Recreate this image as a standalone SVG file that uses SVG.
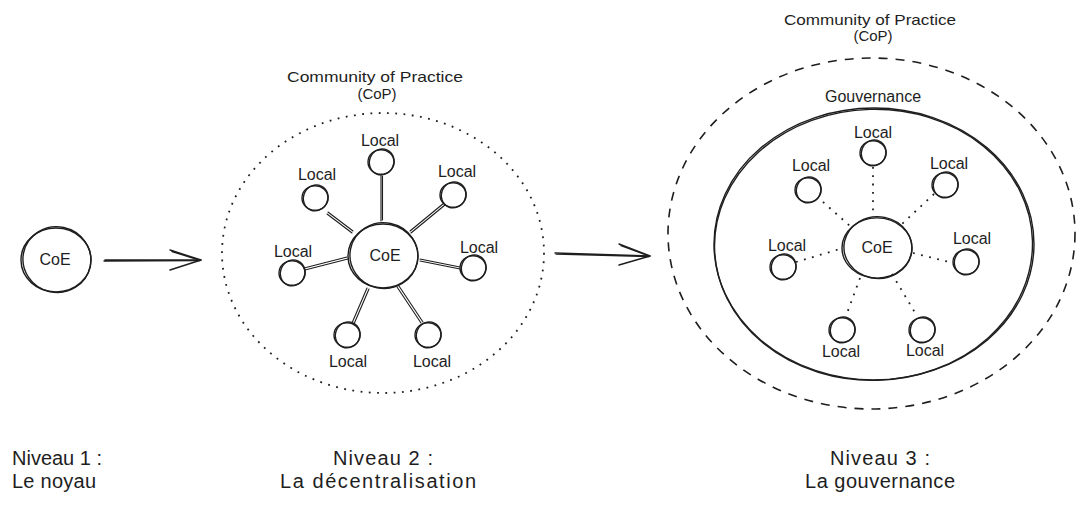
<svg xmlns="http://www.w3.org/2000/svg" xmlns:xlink="http://www.w3.org/1999/xlink" width="1085" height="505" viewBox="0 0 1085 505">
<style>
.sk{fill:none;stroke:#1e1e1e;stroke-width:1.4;stroke-linecap:round;stroke-linejoin:round}
.ln{fill:none;stroke:#1e1e1e;stroke-width:1.1;stroke-linecap:round}
.dot{fill:none;stroke:#1e1e1e;stroke-width:1.8;stroke-dasharray:1.8 6.5;stroke-linecap:butt}
.dash{fill:none;stroke:#1e1e1e;stroke-width:1.6;stroke-dasharray:9 8}
.t{font-family:"Liberation Sans",Arial,sans-serif;fill:#1e1e1e;text-anchor:middle}
.loc{font-size:16px}
.coe{font-size:16px}
.ttl{font-size:15px}
.lvl{font-size:20px}
</style>
<defs>
<g id="locShape" class="sk">
<ellipse cx="0" cy="0" rx="13" ry="12.3"/>
<ellipse cx="0.6" cy="-0.4" rx="12.2" ry="13.1" transform="rotate(25)"/>
</g>
<g id="coeShape" class="sk">
<ellipse cx="0" cy="0" rx="35" ry="32"/>
<ellipse cx="0.8" cy="-0.6" rx="34" ry="32.8" transform="rotate(12)"/>
</g>
</defs>

<!-- Level 1 -->
<g id="coe1">
<use xlink:href="#coeShape" href="#coeShape" transform="translate(56,260)"/>
<text class="t coe" x="55" y="265">CoE</text>
</g>

<!-- Level 2 -->
<g id="cop2">
<ellipse class="dot" cx="383" cy="253" rx="161" ry="140"/>
<text class="t ttl" x="375" y="82" textLength="176" lengthAdjust="spacingAndGlyphs">Community of Practice</text>
<text class="t ttl" x="377" y="99">(CoP)</text>
</g>
<g id="coe2">
<use href="#coeShape" xlink:href="#coeShape" transform="translate(383,256)"/>
<text class="t coe" x="385" y="261">CoE</text>
</g>
<g id="l2-top"><use href="#locShape" xlink:href="#locShape" transform="translate(381,162)"/><text class="t loc" x="380" y="146">Local</text></g>
<g id="l2-tl"><use href="#locShape" xlink:href="#locShape" transform="translate(315,198)"/><text class="t loc" x="317" y="180">Local</text></g>
<g id="l2-tr"><use href="#locShape" xlink:href="#locShape" transform="translate(453,195)"/><text class="t loc" x="457" y="177">Local</text></g>
<g id="l2-l"><use href="#locShape" xlink:href="#locShape" transform="translate(292,273)"/><text class="t loc" x="293" y="257">Local</text></g>
<g id="l2-r"><use href="#locShape" xlink:href="#locShape" transform="translate(473,268)"/><text class="t loc" x="479" y="253">Local</text></g>
<g id="l2-bl"><use href="#locShape" xlink:href="#locShape" transform="translate(347,335)"/><text class="t loc" x="348" y="367">Local</text></g>
<g id="l2-br"><use href="#locShape" xlink:href="#locShape" transform="translate(428,335)"/><text class="t loc" x="432" y="367">Local</text></g>

<!-- Level 3 -->
<g id="cop3">
<ellipse class="dash" cx="871.5" cy="233.5" rx="203.5" ry="175.5"/>
<text class="t ttl" x="870" y="25" textLength="172" lengthAdjust="spacingAndGlyphs">Community of Practice</text>
<text class="t ttl" x="873" y="41">(CoP)</text>
</g>
<g id="gouv">
<ellipse class="sk" cx="874" cy="244" rx="160" ry="136"/>
<ellipse class="sk" cx="873.5" cy="244.8" rx="159" ry="135.5" transform="rotate(-1.5 874 244)"/>
<text class="t loc" x="873" y="102">Gouvernance</text>
</g>
<g id="coe3">
<use href="#coeShape" xlink:href="#coeShape" transform="translate(877,248) scale(1,0.94)"/>
<text class="t coe" x="877" y="253">CoE</text>
</g>
<g id="l3-top"><use href="#locShape" xlink:href="#locShape" transform="translate(873,153)"/><text class="t loc" x="873" y="138">Local</text></g>
<g id="l3-tl"><use href="#locShape" xlink:href="#locShape" transform="translate(808,190)"/><text class="t loc" x="811" y="171">Local</text></g>
<g id="l3-tr"><use href="#locShape" xlink:href="#locShape" transform="translate(945,185)"/><text class="t loc" x="949" y="169">Local</text></g>
<g id="l3-l"><use href="#locShape" xlink:href="#locShape" transform="translate(783,267)"/><text class="t loc" x="787" y="251">Local</text></g>
<g id="l3-r"><use href="#locShape" xlink:href="#locShape" transform="translate(966,262)"/><text class="t loc" x="972" y="244">Local</text></g>
<g id="l3-bl"><use href="#locShape" xlink:href="#locShape" transform="translate(842,330)"/><text class="t loc" x="841" y="357">Local</text></g>
<g id="l3-br"><use href="#locShape" xlink:href="#locShape" transform="translate(922,330)"/><text class="t loc" x="925" y="356">Local</text></g>

<!-- Level labels -->
<g id="lvl1">
<text class="t lvl" x="12" y="465" style="text-anchor:start" textLength="90">Niveau 1 :</text>
<text class="t lvl" x="12" y="488" style="text-anchor:start" textLength="84">Le noyau</text>
</g>
<g id="lvl2">
<text class="t lvl" x="383" y="465" textLength="100">Niveau 2 :</text>
<text class="t lvl" x="378" y="488" textLength="196">La décentralisation</text>
</g>
<g id="lvl3">
<text class="t lvl" x="880" y="465" textLength="100">Niveau 3 :</text>
<text class="t lvl" x="880" y="488" textLength="150">La gouvernance</text>
</g>

<!-- Connectors -->
<g id="connectors">
<path class="sk" d="M105 260 L201 260 M104 261 L200 260.5"/>
<path class="sk" d="M170 250 L201 260 L170 270 M172 251.5 L200 260.3"/>
<path class="sk" d="M555 253 L650 256 M556 254 L649 256.5"/>
<path class="sk" d="M619 244 L650 256 L619 265 M621 245.5 L649 256"/>
<path class="ln" d="M381 175 L381 221 M382.5 176 L382.5 220"/>
<path class="ln" d="M328 212 L353 231 M327 214 L352 233"/>
<path class="ln" d="M444 203 L410 231 M445 205 L411 233"/>
<path class="ln" d="M304 268 L347 257 M305 270 L348 259"/>
<path class="ln" d="M420 259 L460 267 M420 261 L460 269"/>
<path class="ln" d="M367 288 L352 323 M369 289 L354 324"/>
<path class="ln" d="M397 287 L421 323 M399 286 L423 322"/>
<path class="dot" d="M873 167 L873 214"/>
<path class="dot" d="M823 202 L850 226"/>
<path class="dot" d="M934 194 L902 224"/>
<path class="dot" d="M796 262 L840 249"/>
<path class="dot" d="M913 253 L953 263"/>
<path class="dot" d="M860 278 L846 316"/>
<path class="dot" d="M892 274 L917 316"/>
</g>
</svg>
